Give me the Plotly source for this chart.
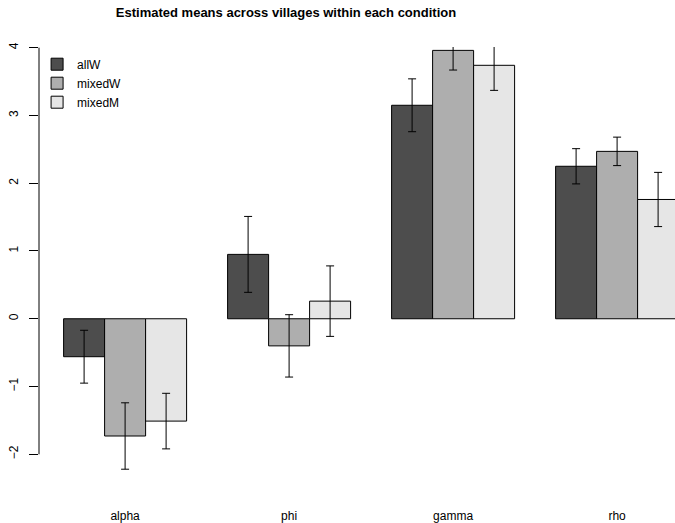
import plotly.graph_objects as go

categories = ["alpha", "phi", "gamma", "rho"]
series_names = ["allW", "mixedW", "mixedM"]
allW = [-0.56, 0.95, 3.15, 2.25]
mixedW = [-1.73, -0.40, 3.96, 2.47]
mixedM = [-1.51, 0.26, 3.74, 1.76]
allW_err = [0.39, 0.56, 0.39, 0.26]
mixedW_err = [0.49, 0.46, 0.29, 0.21]
mixedM_err = [0.41, 0.52, 0.37, 0.40]
colors = ["#4D4D4D", "#AEAEAE", "#E6E6E6"]
ytick_vals = [-2, -1, 0, 1, 2, 3, 4]

values = [allW, mixedW, mixedM]
errors = [allW_err, mixedW_err, mixedM_err]

FONT = "Liberation Sans, Arial, Helvetica, sans-serif"

fig = go.Figure()
for j, (name, vals, errs, col) in enumerate(zip(series_names, values, errors, colors)):
    xs = [1.5 + 4 * g + j for g in range(len(categories))]
    fig.add_trace(go.Bar(
        x=xs, y=vals, width=1, name=name,
        marker=dict(color=col, line=dict(color="#000000", width=1)),
        error_y=dict(type="data", array=errs, visible=True,
                     color="#000000", thickness=1, width=4),
    ))

group_centers = [2.5 + 4 * g for g in range(len(categories))]

fig.update_layout(
    width=675, height=523,
    paper_bgcolor="white", plot_bgcolor="white",
    barmode="overlay",
    margin=dict(l=39, r=0, t=47, b=26, autoexpand=False),
    font=dict(family=FONT, size=12, color="#000000"),
    title=dict(text="<b>Estimated means across villages within each condition</b>",
               x=286 / 675, xref="container", xanchor="center",
               y=1 - 12 / 523, yref="container", yanchor="middle",
               font=dict(family=FONT, size=13, color="#000000")),
    xaxis=dict(range=[0.4, 0.4 + 636 / 41], showgrid=False, zeroline=False,
               showline=False, tickvals=group_centers, ticktext=categories,
               ticks="", ticklabelstandoff=10, automargin=False,
               tickfont=dict(family=FONT, size=12, color="#000000")),
    yaxis=dict(range=[-2.63, 4.01], showgrid=False, zeroline=False,
               showline=False, tickvals=ytick_vals, automargin=False,
               ticktext=[("\u2212" + str(-v)) if v < 0 else str(v) for v in ytick_vals],
               ticks="outside", ticklen=9, tickcolor="#000000", tickwidth=1,
               tickangle=-90, ticklabelstandoff=6,
               tickfont=dict(family=FONT, size=12, color="#000000")),
    legend=dict(x=-0.003, y=0.994, xanchor="left", yanchor="top",
                bgcolor="rgba(0,0,0,0)", font=dict(family=FONT, size=12),
                itemwidth=30, tracegroupgap=0),
    showlegend=True,
)

# y axis line spanning only the tick range (R style)
fig.add_shape(type="line", xref="paper", yref="y", x0=0, x1=0,
              y0=ytick_vals[0], y1=ytick_vals[-1],
              line=dict(color="#000000", width=1))

fig.write_html("out.html",
               config={"displayModeBar": False},
               post_script="document.body.style.margin='0px';document.body.style.overflow='hidden';")
